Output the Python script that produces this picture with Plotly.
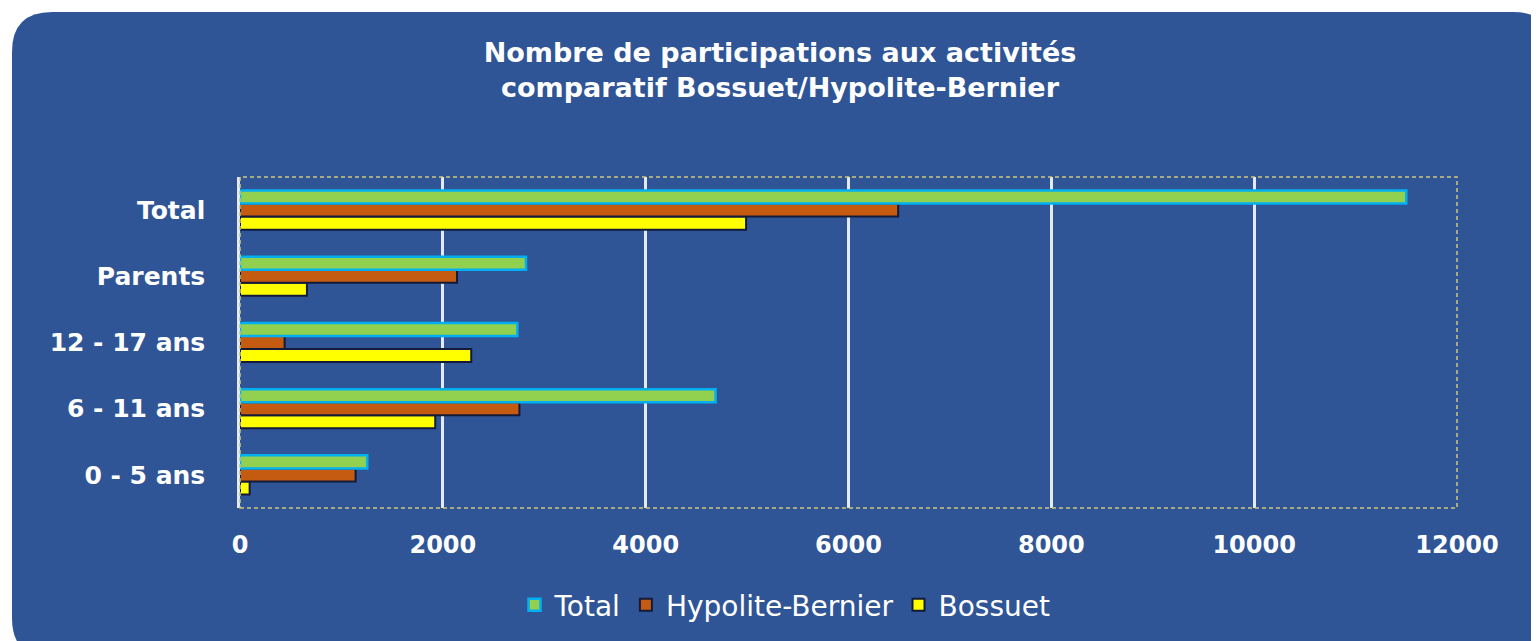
import plotly.graph_objects as go

categories = ["0 - 5 ans", "6 - 11 ans", "12 - 17 ans", "Parents", "Total"]
total = [1255, 4690, 2735, 2820, 11500]
hypolite = [1140, 2755, 440, 2140, 6490]
bossuet = [95, 1925, 2280, 660, 4990]
x_ticks = [0, 2000, 4000, 6000, 8000, 10000, 12000]
x_ticktext = ["0", "2000", "4000", "6000", "8000", "10000", "12000"]

OFF = 8  # default page body margin
W, H = 1539 - OFF, 641 - OFF
L, R, T, B = 240 - OFF, 1457 - OFF, 177 - OFF, 508 - OFF
BLUE = "#2F5597"
FONT = "DejaVu Sans"

def px(x):
    return (x - L) / (R - L)

def py(y):
    return (B - y) / (B - T)

fig = go.Figure()
fig.add_trace(go.Bar(y=categories, x=bossuet, name="Bossuet", orientation="h",
                     marker=dict(color="#FFFF00", line=dict(color="#141b3a", width=2))))
fig.add_trace(go.Bar(y=categories, x=hypolite, name="Hypolite-Bernier", orientation="h",
                     marker=dict(color="#C55A11", line=dict(color="#141b3a", width=2))))
fig.add_trace(go.Bar(y=categories, x=total, name="Total", orientation="h",
                     marker=dict(color="#92D050", line=dict(color="#00B0F0", width=2.5))))

# rounded background panel (page pixel coords minus body offset)
x0, y0, x1, y1, r = 12 - OFF, 12 - OFF, 1545, 650, 40
path = (f"M {px(x0 + r)} {py(y0)} L {px(x1 - r)} {py(y0)} "
        f"Q {px(x1)} {py(y0)} {px(x1)} {py(y0 + r)} "
        f"L {px(x1)} {py(y1 - r)} Q {px(x1)} {py(y1)} {px(x1 - r)} {py(y1)} "
        f"L {px(x0 + r)} {py(y1)} Q {px(x0)} {py(y1)} {px(x0)} {py(y1 - r)} "
        f"L {px(x0)} {py(y0 + r)} Q {px(x0)} {py(y0)} {px(x0 + r)} {py(y0)} Z")
fig.add_shape(type="path", path=path, xref="paper", yref="paper", layer="below",
              fillcolor=BLUE, line=dict(width=0))
# dashed plot-area border
fig.add_shape(type="rect", xref="paper", yref="paper", x0=0, y0=0, x1=1, y1=1,
              line=dict(color="#CFC77F", width=1.5, dash="4px,3px"), layer="above")

fig.update_layout(
    width=W, height=H,
    margin=dict(l=L, r=W - R, t=T, b=H - B),
    paper_bgcolor="white",
    plot_bgcolor="rgba(0,0,0,0)",
    barmode="group",
    bargap=0.41,
    bargroupgap=0,
    title=dict(text="Nombre de participations aux activités<br>comparatif Bossuet/Hypolite-Bernier",
               x=(780 - OFF) / W, xref="container", xanchor="center",
               y=1 - (62 - OFF) / H, yanchor="middle",
               font=dict(family=FONT, size=27, color="white", weight="bold")),
    font=dict(family=FONT, color="white"),
    xaxis=dict(range=[0, 12000], tickvals=x_ticks, ticktext=x_ticktext,
               showgrid=True, gridcolor="#E3E9F5",
               gridwidth=2.5, zeroline=False, showline=False,
               tickfont=dict(family=FONT, size=24, color="white", weight="bold"),
               ticklabelstandoff=20, fixedrange=True),
    yaxis=dict(type="category", categoryorder="array", categoryarray=categories,
               range=[-0.5, 4.5], showgrid=False, zeroline=False,
               showline=True, linecolor="#E3E9F5", linewidth=2.5,
               tickfont=dict(family=FONT, size=25, color="white", weight="bold"),
               ticklabelstandoff=27, fixedrange=True),
    legend=dict(orientation="h", x=(785 - OFF) / W, xref="container",
                xanchor="center", y=1 - (605 - OFF) / H, yref="container", yanchor="middle",
                traceorder="reversed", font=dict(family=FONT, size=28, color="white"),
                bgcolor="rgba(0,0,0,0)", itemwidth=30),
    showlegend=True,
)

fig.write_html("out.html")
